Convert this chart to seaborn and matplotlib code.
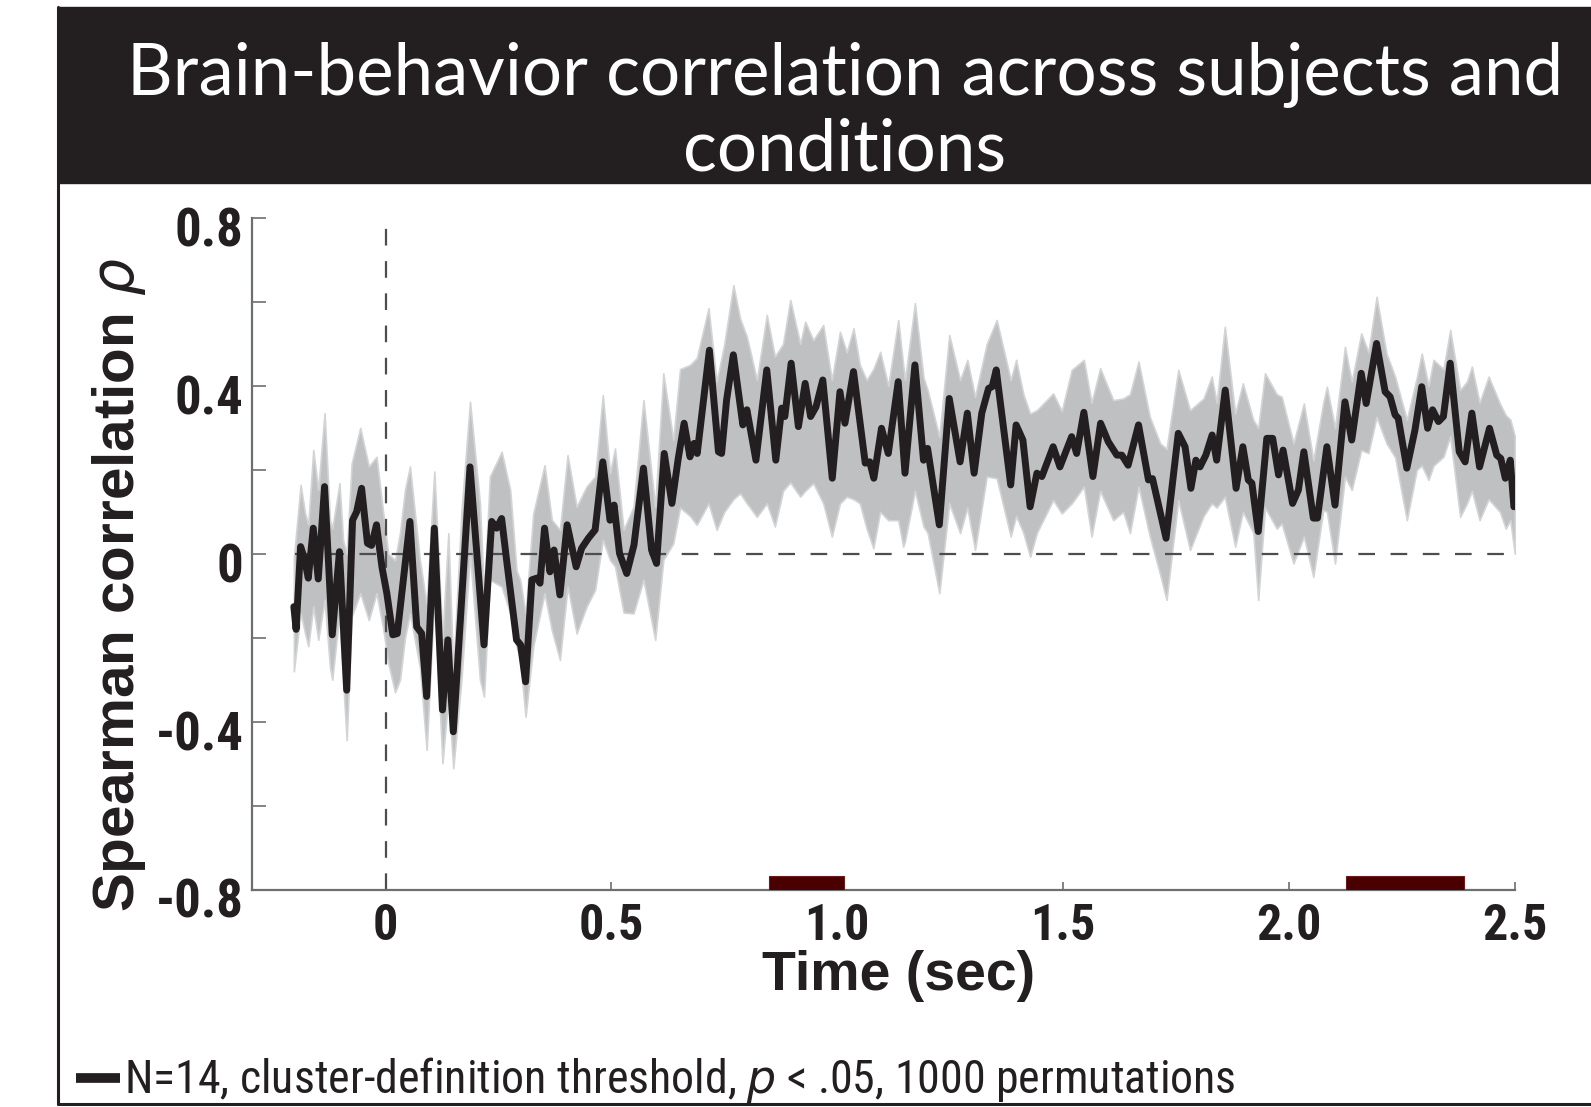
"""Brain-behavior correlation time course (Spearman rho across subjects)."""

import matplotlib

matplotlib.use("Agg")
import matplotlib.pyplot as plt
import matplotlib.transforms as mtransforms
from matplotlib import font_manager
from matplotlib.lines import Line2D
from matplotlib.patches import Rectangle
import pandas as pd
import seaborn as sns

# Mean correlation time course (sec, rho).
time_sec = [
    -0.203, -0.198, -0.188, -0.180, -0.171, -0.160, -0.149, -0.135, -0.118, -0.102,
    -0.086, -0.073, -0.064, -0.053, -0.040, -0.031, -0.020, -0.008, 0.003, 0.016,
    0.026, 0.054, 0.069, 0.080, 0.091, 0.108, 0.126, 0.138, 0.150, 0.187,
    0.218, 0.235, 0.246, 0.257, 0.268, 0.290, 0.299, 0.310, 0.324, 0.335,
    0.342, 0.352, 0.364, 0.373, 0.386, 0.402, 0.422, 0.434, 0.449, 0.464,
    0.481, 0.497, 0.506, 0.518, 0.534, 0.550, 0.571, 0.589, 0.600, 0.617,
    0.634, 0.648, 0.661, 0.674, 0.683, 0.690, 0.717, 0.737, 0.744, 0.755,
    0.770, 0.791, 0.800, 0.820, 0.844, 0.864, 0.877, 0.884, 0.898, 0.914,
    0.929, 0.941, 0.953, 0.968, 0.989, 1.006, 1.017, 1.036, 1.062, 1.072,
    1.081, 1.098, 1.113, 1.135, 1.150, 1.172, 1.191, 1.200, 1.226, 1.248,
    1.272, 1.288, 1.303, 1.320, 1.335, 1.343, 1.352, 1.384, 1.396, 1.411,
    1.427, 1.442, 1.453, 1.478, 1.493, 1.519, 1.530, 1.546, 1.566, 1.583,
    1.600, 1.619, 1.630, 1.644, 1.667, 1.689, 1.698, 1.728, 1.755, 1.770,
    1.783, 1.794, 1.803, 1.816, 1.830, 1.840, 1.859, 1.883, 1.898, 1.910,
    1.918, 1.932, 1.951, 1.964, 1.977, 1.987, 2.008, 2.021, 2.033, 2.054,
    2.063, 2.084, 2.102, 2.124, 2.139, 2.160, 2.171, 2.194, 2.213, 2.224,
    2.235, 2.242, 2.261, 2.279, 2.294, 2.307, 2.318, 2.331, 2.342, 2.357,
    2.377, 2.390, 2.405, 2.422, 2.444, 2.460, 2.469, 2.479, 2.490, 2.498,
]
rho = [
    -0.126, -0.180, 0.017, -0.010, -0.058, 0.061, -0.060, 0.160, -0.193, 0.005,
    -0.325, 0.080, 0.100, 0.156, 0.025, 0.020, 0.069, -0.031, -0.095, -0.193,
    -0.190, 0.077, -0.174, -0.190, -0.340, 0.061, -0.372, -0.205, -0.424, 0.207,
    -0.217, 0.077, 0.061, 0.084, -0.015, -0.205, -0.217, -0.305, -0.062, -0.058,
    -0.070, 0.061, -0.043, 0.009, -0.098, 0.069, -0.031, 0.013, 0.037, 0.057,
    0.219, 0.080, 0.116, 0.001, -0.047, 0.021, 0.204, 0.009, -0.023, 0.239,
    0.120, 0.227, 0.311, 0.231, 0.263, 0.239, 0.485, 0.243, 0.239, 0.366,
    0.474, 0.307, 0.343, 0.223, 0.438, 0.223, 0.347, 0.327, 0.454, 0.303,
    0.406, 0.327, 0.350, 0.414, 0.180, 0.386, 0.311, 0.434, 0.216, 0.219,
    0.180, 0.299, 0.239, 0.410, 0.192, 0.450, 0.223, 0.251, 0.069, 0.370,
    0.219, 0.335, 0.192, 0.335, 0.394, 0.398, 0.438, 0.164, 0.307, 0.271,
    0.112, 0.192, 0.184, 0.255, 0.207, 0.279, 0.239, 0.337, 0.184, 0.311,
    0.267, 0.235, 0.235, 0.211, 0.307, 0.176, 0.179, 0.037, 0.287, 0.255,
    0.156, 0.223, 0.207, 0.235, 0.283, 0.223, 0.390, 0.156, 0.255, 0.176,
    0.168, 0.053, 0.275, 0.275, 0.188, 0.247, 0.120, 0.152, 0.243, 0.085,
    0.085, 0.255, 0.116, 0.362, 0.271, 0.430, 0.358, 0.501, 0.386, 0.374,
    0.331, 0.323, 0.204, 0.295, 0.398, 0.299, 0.343, 0.315, 0.327, 0.454,
    0.243, 0.219, 0.335, 0.207, 0.299, 0.235, 0.227, 0.180, 0.223, 0.112,
]

# Shaded error band (upper / lower edge) on its own time grid.
band_time = [
    -0.203, -0.188, -0.178, -0.171, -0.160, -0.149, -0.135, -0.123, -0.118, -0.102,
    -0.094, -0.086, -0.075, -0.056, -0.037, -0.020, -0.005, 0.006, 0.021, 0.032,
    0.043, 0.054, 0.076, 0.091, 0.108, 0.126, 0.139, 0.150, 0.168, 0.187,
    0.209, 0.218, 0.231, 0.257, 0.276, 0.290, 0.298, 0.310, 0.327, 0.352,
    0.368, 0.386, 0.403, 0.423, 0.445, 0.464, 0.481, 0.497, 0.508, 0.527,
    0.549, 0.571, 0.597, 0.615, 0.637, 0.652, 0.674, 0.689, 0.715, 0.733,
    0.750, 0.770, 0.785, 0.800, 0.822, 0.844, 0.862, 0.880, 0.896, 0.918,
    0.929, 0.947, 0.969, 0.988, 1.006, 1.021, 1.036, 1.050, 1.065, 1.080,
    1.095, 1.113, 1.135, 1.146, 1.150, 1.172, 1.191, 1.200, 1.226, 1.248,
    1.272, 1.288, 1.305, 1.331, 1.353, 1.384, 1.396, 1.412, 1.427, 1.442,
    1.478, 1.497, 1.519, 1.546, 1.563, 1.582, 1.611, 1.633, 1.648, 1.667,
    1.692, 1.715, 1.729, 1.755, 1.781, 1.811, 1.829, 1.840, 1.858, 1.881,
    1.898, 1.921, 1.932, 1.947, 1.973, 1.984, 2.010, 2.033, 2.054, 2.076,
    2.084, 2.102, 2.124, 2.139, 2.160, 2.176, 2.194, 2.216, 2.235, 2.261,
    2.283, 2.294, 2.309, 2.320, 2.342, 2.357, 2.379, 2.394, 2.405, 2.422,
    2.442, 2.467, 2.480, 2.490, 2.500,
]
band_upper = [
    -0.010, 0.164, 0.096, 0.070, 0.247, 0.152, 0.335, 0.081, 0.060, 0.168,
    0.033, 0.000, 0.215, 0.300, 0.208, 0.231, 0.096, 0.000, -0.015, 0.050,
    0.152, 0.208, -0.015, -0.120, 0.196, -0.200, 0.049, -0.280, 0.100, 0.362,
    0.120, -0.100, 0.184, 0.243, 0.152, -0.040, -0.062, -0.142, 0.096, 0.211,
    0.081, 0.057, 0.235, 0.112, 0.160, 0.184, 0.378, 0.192, 0.251, 0.057,
    0.112, 0.366, 0.112, 0.430, 0.271, 0.440, 0.450, 0.466, 0.585, 0.410,
    0.500, 0.640, 0.560, 0.517, 0.414, 0.569, 0.470, 0.500, 0.605, 0.500,
    0.553, 0.509, 0.545, 0.414, 0.529, 0.480, 0.537, 0.450, 0.414, 0.440,
    0.481, 0.400, 0.557, 0.450, 0.414, 0.597, 0.420, 0.390, 0.279, 0.521,
    0.414, 0.462, 0.374, 0.500, 0.557, 0.414, 0.462, 0.380, 0.334, 0.342,
    0.382, 0.340, 0.438, 0.462, 0.360, 0.442, 0.366, 0.370, 0.380, 0.458,
    0.326, 0.263, 0.250, 0.438, 0.342, 0.370, 0.422, 0.360, 0.541, 0.334,
    0.406, 0.319, 0.300, 0.430, 0.380, 0.374, 0.263, 0.358, 0.223, 0.360,
    0.398, 0.300, 0.493, 0.410, 0.525, 0.480, 0.612, 0.477, 0.422, 0.319,
    0.420, 0.477, 0.400, 0.462, 0.440, 0.533, 0.390, 0.410, 0.446, 0.360,
    0.422, 0.358, 0.330, 0.320, 0.280,
]
band_lower = [
    -0.280, -0.142, -0.190, -0.220, -0.126, -0.205, -0.110, -0.270, -0.300, -0.142,
    -0.300, -0.444, -0.150, -0.094, -0.158, -0.094, -0.180, -0.260, -0.330, -0.300,
    -0.200, -0.142, -0.270, -0.467, -0.100, -0.499, -0.340, -0.511, -0.300, 0.000,
    -0.300, -0.340, -0.062, -0.078, -0.142, -0.221, -0.250, -0.388, -0.221, -0.094,
    -0.182, -0.253, -0.078, -0.190, -0.126, -0.086, 0.033, -0.015, -0.030, -0.140,
    -0.142, -0.062, -0.205, -0.015, 0.025, 0.110, 0.090, 0.069, 0.120, 0.057,
    0.100, 0.130, 0.144, 0.120, 0.088, 0.120, 0.065, 0.150, 0.170, 0.136,
    0.150, 0.168, 0.120, 0.041, 0.120, 0.136, 0.130, 0.120, 0.060, 0.013,
    0.100, 0.080, 0.080, 0.017, 0.030, 0.150, 0.065, 0.050, -0.094, 0.120,
    0.049, 0.110, 0.009, 0.184, 0.180, 0.041, 0.090, 0.050, -0.007, 0.050,
    0.128, 0.096, 0.120, 0.160, 0.041, 0.150, 0.080, 0.100, 0.049, 0.160,
    0.041, -0.050, -0.110, 0.128, 0.009, 0.090, 0.120, 0.110, 0.136, 0.017,
    0.100, 0.050, -0.110, 0.110, 0.060, 0.072, -0.023, 0.041, -0.055, 0.104,
    0.100, -0.023, 0.184, 0.152, 0.247, 0.240, 0.326, 0.263, 0.230, 0.080,
    0.200, 0.210, 0.176, 0.210, 0.231, 0.280, 0.088, 0.120, 0.150, 0.080,
    0.130, 0.100, 0.060, 0.080, 0.000,
]

# Significant clusters (start / end in sec).
cluster_start = [0.849, 2.126]
cluster_end = [1.015, 2.387]

yticks = [0.8, 0.6, 0.4, 0.2, 0.0, -0.2, -0.4, -0.6, -0.8]
ytick_labels = ["0.8", "", "0.4", "", "0", "", "-0.4", "", "-0.8"]
xticks = [0.0, 0.5, 1.0, 1.5, 2.0, 2.5]
xtick_labels = ["0", "0.5", "1.0", "1.5", "2.0", "2.5"]

title_lines = ["Brain-behavior correlation across subjects and", "conditions"]
footnote = r"N=14, cluster-definition threshold, $p$ < .05, 1000 permutations"

INK = "#231f20"
AXIS_GREY = "#6d6e71"
BAND = "#bfc0c2"
CLUSTER = "#4a0000"


def pick_font(*names: str) -> str:
    """Return the first installed family from names."""
    available = {f.name for f in font_manager.fontManager.ttflist}
    for name in names:
        if name in available:
            return name
    return "DejaVu Sans"


def main() -> None:
    sns.set_style("ticks")
    narrow = pick_font("Liberation Sans Narrow", "Roboto Condensed", "Liberation Sans")
    sans = pick_font("Liberation Sans", "Arimo", "DejaVu Sans")
    title_font = pick_font("Lato", "Open Sans", "Noto Sans")
    plt.rcParams["font.family"] = [sans, "DejaVu Sans"]

    frame = pd.DataFrame({"time": time_sec, "rho": rho})

    fig = plt.figure(figsize=(15.91, 11.07), dpi=100)
    ax = fig.add_axes([0.1584, 0.1964, 0.7937, 0.6067])

    # Header band, frame lines and title.
    fig.add_artist(Rectangle((0.0365, 0.8347), 1 - 0.0365, 0.9935 - 0.8347,
                             transform=fig.transFigure, color=INK, zorder=0))
    fig.add_artist(Line2D([0.0365, 0.0365], [0.0027, 0.9935], transform=fig.transFigure,
                          color=INK, lw=2.2))
    fig.add_artist(Line2D([0.0365, 1.0], [0.0027, 0.0027], transform=fig.transFigure,
                          color=INK, lw=2.2))
    fig.text(0.531, 0.9142, title_lines[0], ha="center", va="baseline", color="white",
             fontsize=51, family=title_font)
    fig.text(0.531, 0.8464, title_lines[1], ha="center", va="baseline", color="white",
             fontsize=51, family=title_font)

    # Error band, mean line and reference lines.
    ax.fill_between(band_time, band_lower, band_upper, color=BAND, lw=1.2,
                    edgecolor="#d3d4d6", zorder=1)
    ax.plot([-0.2, 2.5], [0, 0], color="#4d4d4f", lw=1.6, ls=(0, (7.5, 7)), zorder=2)
    ax.plot([0, 0], [-0.8, 0.8], color="#4d4d4f", lw=1.6, ls=(0, (7.5, 7)), zorder=2)
    sns.lineplot(data=frame, x="time", y="rho", estimator=None, color=INK, lw=5,
                 ax=ax, zorder=3)
    for line in ax.lines:
        line.set_solid_joinstyle("round")
        line.set_solid_capstyle("round")

    widths = [e - s for s, e in zip(cluster_start, cluster_end)]
    ax.barh(y=-0.784, width=widths, left=cluster_start, height=0.032,
            color=CLUSTER, edgecolor="#6a1c1c", lw=0.8, zorder=4)

    ax.set_xlim(-0.2956, 2.5)
    ax.set_ylim(-0.8, 0.8)
    ax.set_xticks(xticks)
    ax.set_xticklabels(xtick_labels, family=narrow, fontweight="bold", fontsize=36,
                       color=INK)
    ax.set_yticks(yticks)
    ax.set_yticklabels(ytick_labels, family=narrow, fontweight="bold", fontsize=38,
                       color=INK)
    ax.set_xlabel("")
    ax.set_ylabel("")
    sns.despine(ax=ax)
    for side in ("left", "bottom"):
        ax.spines[side].set_color(AXIS_GREY)
        ax.spines[side].set_linewidth(1.6)
    ax.tick_params(axis="y", direction="in", length=10, width=1.2, color=AXIS_GREY, pad=6)
    ax.tick_params(axis="x", direction="in", length=6, width=1.2, color=AXIS_GREY, pad=10)
    shift = mtransforms.ScaledTranslation(0, -6 / 72, fig.dpi_scale_trans)
    for label in ax.get_yticklabels():
        label.set_transform(label.get_transform() + shift)

    # Axis titles.
    fig.text(0.0748, 0.4715, r"Spearman correlation $\rho$", rotation=90, ha="center",
             va="center", fontsize=42, fontweight="bold", color=INK)
    fig.text(0.5645, 0.1183, "Time (sec)", ha="center", va="center", fontsize=40,
             fontweight="bold", color=INK)

    # Footnote with the legend stroke.
    fig.add_artist(Line2D([0.0478, 0.0754], [0.0258, 0.0258], transform=fig.transFigure,
                          color=INK, lw=7, solid_capstyle="butt"))
    fig.text(0.0779, 0.0126, footnote, ha="left", va="baseline", fontsize=33,
             family=narrow, color=INK)

    fig.savefig("out.png", dpi=100, facecolor="white")
    plt.close(fig)


if __name__ == "__main__":
    main()
